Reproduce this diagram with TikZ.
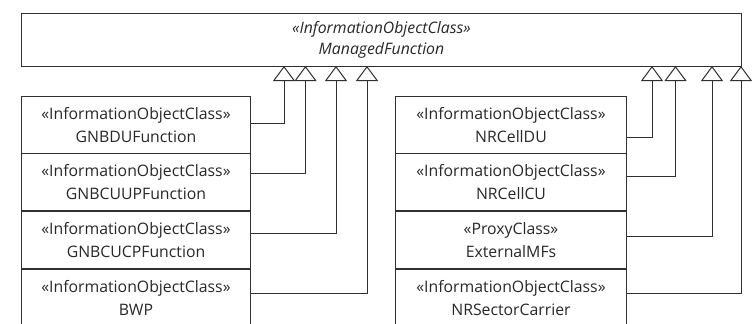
\documentclass[tikz,border=0pt]{standalone}
\usepackage{fontspec}
\setmainfont{Open Sans}
\usetikzlibrary{arrows.meta}
\definecolor{ln}{HTML}{303030}
\definecolor{tx}{HTML}{282828}
\tikzset{
  cls/.style={draw=ln, line width=1pt, rectangle, inner sep=0pt, anchor=north west,
    minimum width=229pt, minimum height=57.5pt, align=center, text=tx,
    font=\fontsize{15.8}{21.5}\selectfont},
  gen/.style={draw=ln, line width=1pt, -{Triangle[open,length=15pt,width=22pt,line width=1pt]}},
}
\newcommand{\twolines}[2]{\raisebox{-2.5pt}{\shortstack{#1\\[4pt]#2}}}
\begin{document}
\begin{tikzpicture}[x=1pt,y=-1pt]
\clip (0,0) rectangle (756,324);
\fill[white] (0,0) rectangle (756,324);
\node[draw=ln, line width=1pt, rectangle, inner sep=0pt, anchor=north west,
  minimum width=720pt, minimum height=53pt, align=center, text=tx,
  font=\fontsize{15.8}{21.5}\selectfont\itshape] (mf) at (21,13)
  {«InformationObjectClass»\\ManagedFunction};
% tips
\coordinate (t1) at (284,66);
\coordinate (t2) at (305.5,66);
\coordinate (t3) at (336,66);
\coordinate (t4) at (367,66);
\coordinate (t5) at (652,66);
\coordinate (t6) at (675.5,66);
\coordinate (t7) at (712,66);
\coordinate (t8) at (741,66);
% left boxes
\node[cls] (g1) at (21,95.7) {\twolines{«InformationObjectClass»}{GNBDUFunction}};
\node[cls] (g2) at (21,152.7) {\twolines{«InformationObjectClass»}{GNBCUUPFunction}};
\node[cls] (g3) at (21,210.7) {\twolines{«InformationObjectClass»}{GNBCUCPFunction}};
\node[cls] (g4) at (21,268.7) {\twolines{«InformationObjectClass»}{BWP}};
% right boxes
\node[cls, minimum width=231pt] (n1) at (395,95.7) {\twolines{«InformationObjectClass»}{NRCellDU}};
\node[cls, minimum width=231pt] (n2) at (395,152.7) {\twolines{«InformationObjectClass»}{NRCellCU}};
\node[cls, minimum width=231pt] (n3) at (395,210.7) {\twolines{«ProxyClass»}{ExternalMFs}};
\node[cls, minimum width=231pt] (n4) at (395,268.7) {\twolines{«InformationObjectClass»}{NRSectorCarrier}};
% connectors
\draw[gen] (g1.north east) ++(0,27.5) -| (t1);
\draw[gen] (g2.north east) ++(0,20.5) -| (t2);
\draw[gen] (g3.north east) ++(0,22.5) -| (t3);
\draw[gen] (g4.north east) ++(0,24.5) -| (t4);
\draw[gen] (n1.north east) ++(0,41.5) -| (t5);
\draw[gen] (n2.north east) ++(0,24) -| (t6);
\draw[gen] (n3.north east) ++(0,26) -| (t7);
\draw[gen] (n4.north east) ++(0,24.5) -| (t8);
\end{tikzpicture}
\end{document}
